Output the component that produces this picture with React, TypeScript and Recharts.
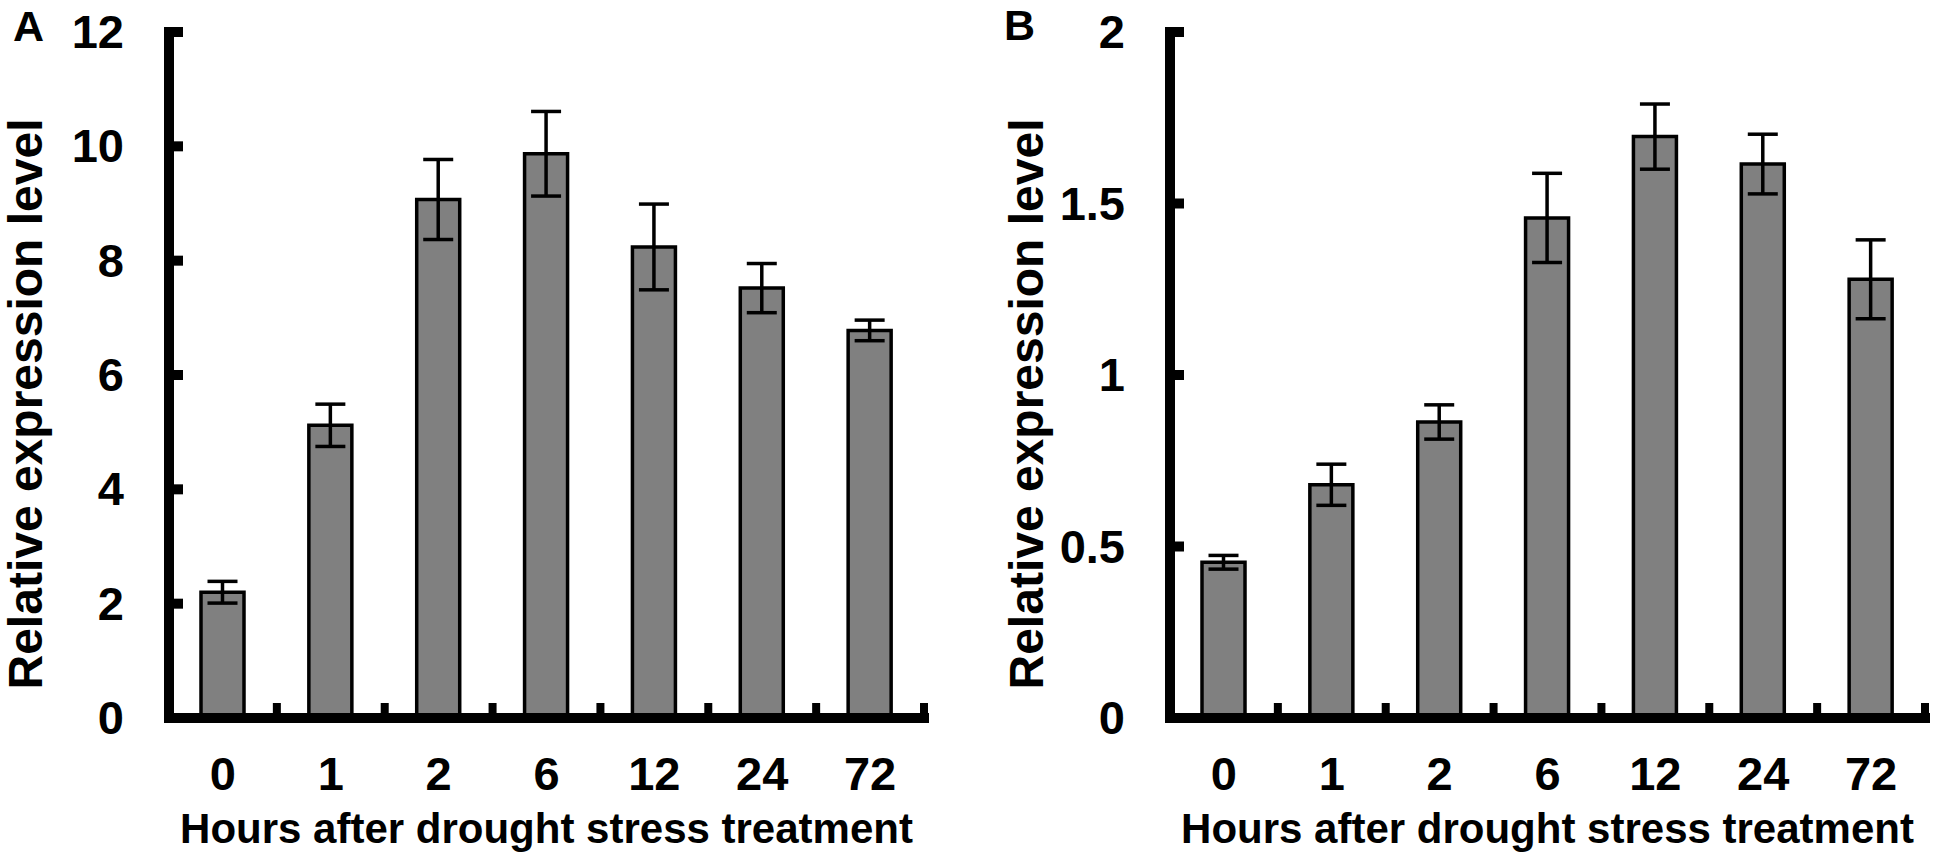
import { BarChart, Bar, XAxis, YAxis, ErrorBar } from "recharts";

// Relative expression after drought stress — two panels (A, B), mean ± SE.

const hours = ["0", "1", "2", "6", "12", "24", "72"];

const meanA = [2.2, 5.12, 9.07, 9.87, 8.24, 7.52, 6.78];
const errA = [0.19, 0.37, 0.7, 0.74, 0.75, 0.43, 0.18];
const ticksA = [0, 2, 4, 6, 8, 10, 12];

const meanB = [0.454, 0.68, 0.863, 1.458, 1.695, 1.615, 1.279];
const errB = [0.02, 0.06, 0.05, 0.13, 0.095, 0.087, 0.115];
const ticksB = [0, 0.5, 1, 1.5, 2];

const FONT = "'Liberation Sans', Arial, sans-serif";
const W = 934;
const H = 859;
const Y_AXIS_W = 169;
const MARGIN = { top: 32, right: 10, bottom: 0, left: 0 };
const PLOT_W = W - Y_AXIS_W - MARGIN.right;

function YTick(props: any) {
  const { x, y, payload } = props;
  return (
    <g>
      <rect x={x} y={y - 5} width={14} height={10} fill="#000" />
      <text
        x={x - 45}
        y={y + 16}
        textAnchor="end"
        fontSize={47}
        fontWeight="bold"
        fontFamily={FONT}
        fill="#000"
      >
        {payload.value}
      </text>
    </g>
  );
}

function XTick(props: any) {
  const { x, y, payload } = props;
  const step = PLOT_W / hours.length;
  return (
    <g>
      <rect x={x + step / 2 - 4} y={y - 15} width={8} height={15} fill="#000" />
      <text
        x={x}
        y={y + 72}
        textAnchor="middle"
        fontSize={47}
        fontWeight="bold"
        fontFamily={FONT}
        fill="#000"
      >
        {payload.value}
      </text>
    </g>
  );
}

function XTitle(props: any) {
  const vb = props.viewBox ?? { x: Y_AXIS_W, y: H - 141, width: PLOT_W };
  return (
    <text
      x={vb.x + vb.width / 2}
      y={vb.y + 125}
      textAnchor="middle"
      fontSize={42}
      fontWeight="bold"
      fontFamily={FONT}
      fill="#000"
    >
      Hours after drought stress treatment
    </text>
  );
}

function YTitle(props: any) {
  const vb = props.viewBox ?? { x: 0, y: MARGIN.top, height: H - MARGIN.top - 141 };
  const cy = vb.y + vb.height / 2 + 29;
  return (
    <text
      transform={`translate(${vb.x + 42},${cy}) rotate(-90)`}
      textAnchor="middle"
      fontSize={48}
      fontWeight="bold"
      fontFamily={FONT}
      fill="#000"
    >
      Relative expression level
    </text>
  );
}

function Panel({ means, errs, ticks }: { means: number[]; errs: number[]; ticks: number[] }) {
  const data = hours.map((h, i) => ({ hour: h, mean: means[i], err: errs[i] }));
  const axisLine = { stroke: "#000", strokeWidth: 10, strokeLinecap: "square" as const };
  return (
    <BarChart width={W} height={H} data={data} margin={MARGIN}>
      <Bar dataKey="mean" fill="#808080" stroke="#000" strokeWidth={3.5} barSize={43} isAnimationActive={false}>
        <ErrorBar dataKey="err" width={15} stroke="#000" strokeWidth={3.5} isAnimationActive={false} />
      </Bar>
      <XAxis
        dataKey="hour"
        height={141}
        axisLine={axisLine}
        tickLine={false}
        tickSize={0}
        tickMargin={0}
        tick={<XTick />}
        interval={0}
        label={{ content: <XTitle /> }}
      />
      <YAxis
        width={Y_AXIS_W}
        domain={[ticks[0], ticks[ticks.length - 1]]}
        ticks={ticks}
        interval={0}
        axisLine={axisLine}
        tickLine={false}
        tickSize={0}
        tickMargin={0}
        tick={<YTick />}
        label={{ content: <YTitle /> }}
      />
    </BarChart>
  );
}

export default function App() {
  return (
    <div style={{ position: "absolute", left: 0, top: 0, width: 1934, height: 859, background: "#fff" }}>
      <div style={{ position: "absolute", left: 0, top: 0 }}>
        <Panel means={meanA} errs={errA} ticks={ticksA} />
      </div>
      <div style={{ position: "absolute", left: 1001, top: 0 }}>
        <Panel means={meanB} errs={errB} ticks={ticksB} />
      </div>
      <svg
        width={1934}
        height={859}
        style={{ position: "absolute", left: 0, top: 0, pointerEvents: "none" }}
      >
        <text x={13} y={41} fontSize={43} fontWeight="bold" fontFamily={FONT} fill="#000">A</text>
        <text x={1004} y={40} fontSize={43} fontWeight="bold" fontFamily={FONT} fill="#000">B</text>
      </svg>
    </div>
  );
}
